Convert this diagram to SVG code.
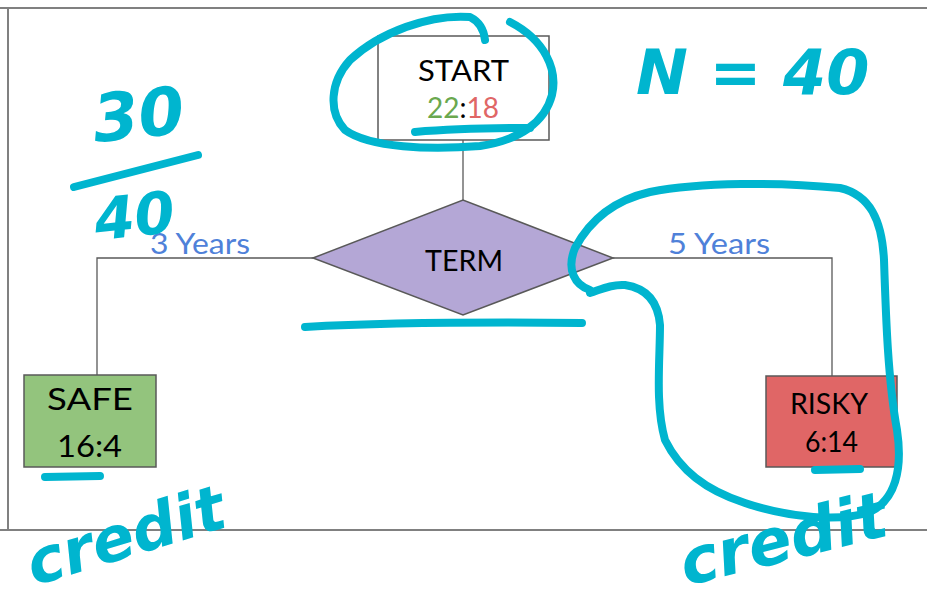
<svg xmlns="http://www.w3.org/2000/svg" width="927" height="606" viewBox="0 0 927 606">
<style>
.frame{stroke:#808080;stroke-width:2;fill:none}
.node{stroke:#595959;stroke-width:1.5}
.conn{stroke:#595959;stroke-width:1.3;fill:none}
.lbl{font-family:Lato,"Open Sans",sans-serif;fill:#000}
.edge{font-family:Lato,"Open Sans",sans-serif;fill:#4f81d9;font-size:28px}
.ink{stroke:#00b5cf;stroke-width:8;fill:none;stroke-linecap:round;stroke-linejoin:round}
.hw{font-family:"DejaVu Sans",sans-serif;font-weight:bold;font-style:oblique;fill:#00b5cf}
</style>
<rect width="927" height="606" fill="#fff"/>
<g id="frame">
<line class="frame" x1="0" y1="8" x2="927" y2="8"/>
<line class="frame" x1="8" y1="8" x2="8" y2="530"/>
<line class="frame" x1="0" y1="530" x2="927" y2="530"/>
</g>
<g id="connectors">
<line class="conn" x1="463" y1="140" x2="463" y2="200"/>
<polyline class="conn" points="313,258 97,258 97,375"/>
<polyline class="conn" points="613,258 832,258 832,376"/>
<text class="edge" x="150" y="254" textLength="100" lengthAdjust="spacingAndGlyphs">3 Years</text>
<text class="edge" x="668" y="254" textLength="102" lengthAdjust="spacingAndGlyphs">5 Years</text>
</g>
<g id="start">
<rect class="node" x="378" y="36" width="171" height="104" fill="#fff"/>
<text class="lbl" x="418" y="81" font-size="29" textLength="91" lengthAdjust="spacingAndGlyphs">START</text>
<text class="lbl" x="427" y="118" font-size="28" textLength="72" lengthAdjust="spacingAndGlyphs"><tspan fill="#6aa84f">22</tspan><tspan fill="#000">:</tspan><tspan fill="#e06666">18</tspan></text>
</g>
<g id="term">
<polygon class="node" points="313,258 463,200 613,258 463,315" fill="#b4a7d6"/>
<text class="lbl" x="425" y="271" font-size="29" textLength="78" lengthAdjust="spacingAndGlyphs">TERM</text>
</g>
<g id="safe">
<rect class="node" x="24" y="375" width="132" height="92" fill="#93c47d"/>
<text class="lbl" x="47" y="410" font-size="30" textLength="86" lengthAdjust="spacingAndGlyphs">SAFE</text>
<text class="lbl" x="57" y="457" font-size="30" textLength="65" lengthAdjust="spacingAndGlyphs">16:4</text>
</g>
<g id="risky">
<rect class="node" x="766" y="376" width="131" height="91" fill="#e06666"/>
<text class="lbl" x="790" y="414" font-size="29" textLength="78" lengthAdjust="spacingAndGlyphs">RISKY</text>
<text class="lbl" x="805" y="452" font-size="29" textLength="53" lengthAdjust="spacingAndGlyphs">6:14</text>
</g>
<g id="annotations">
<path class="ink" d="M485,40 C484,30 480,22 470,17 C430,14 380,32 350,60 C330,82 328,112 345,130 C370,148 430,150 480,146 C520,140 545,122 552,95 C558,70 545,40 510,22"/>
<path class="ink" d="M415,132 C450,129 495,128 530,128"/>
<path class="ink" d="M305,327 C380,323 480,322 582,323"/>
<path class="ink" d="M45,477 L100,476"/>
<path class="ink" d="M815,470 L860,469"/>
<path class="ink" d="M590,290 C575,285 566,270 575,248 C590,220 615,200 650,192 C700,182 780,182 840,188 C870,195 882,220 884,260 C886,320 888,380 897,430 C903,470 895,500 870,512 C840,522 790,518 745,503 C705,490 680,470 665,440 C655,405 660,360 660,325 C658,300 645,288 625,285 C610,284 600,290 590,293"/>
<text class="hw" x="92" y="138" font-size="66" transform="rotate(-6 135 110)">30</text>
<path class="ink" d="M74,187 L198,155"/>
<text class="hw" x="94" y="236" font-size="58" transform="rotate(-6 135 215)">40</text>
<text class="hw" x="636" y="94" font-size="62">N = 40</text>
<text class="hw" x="0" y="0" font-size="62" transform="translate(34,586) rotate(-17)">credit</text>
<text class="hw" x="0" y="0" font-size="64" transform="translate(686,586) rotate(-14)">credit</text>
</g>
</svg>
